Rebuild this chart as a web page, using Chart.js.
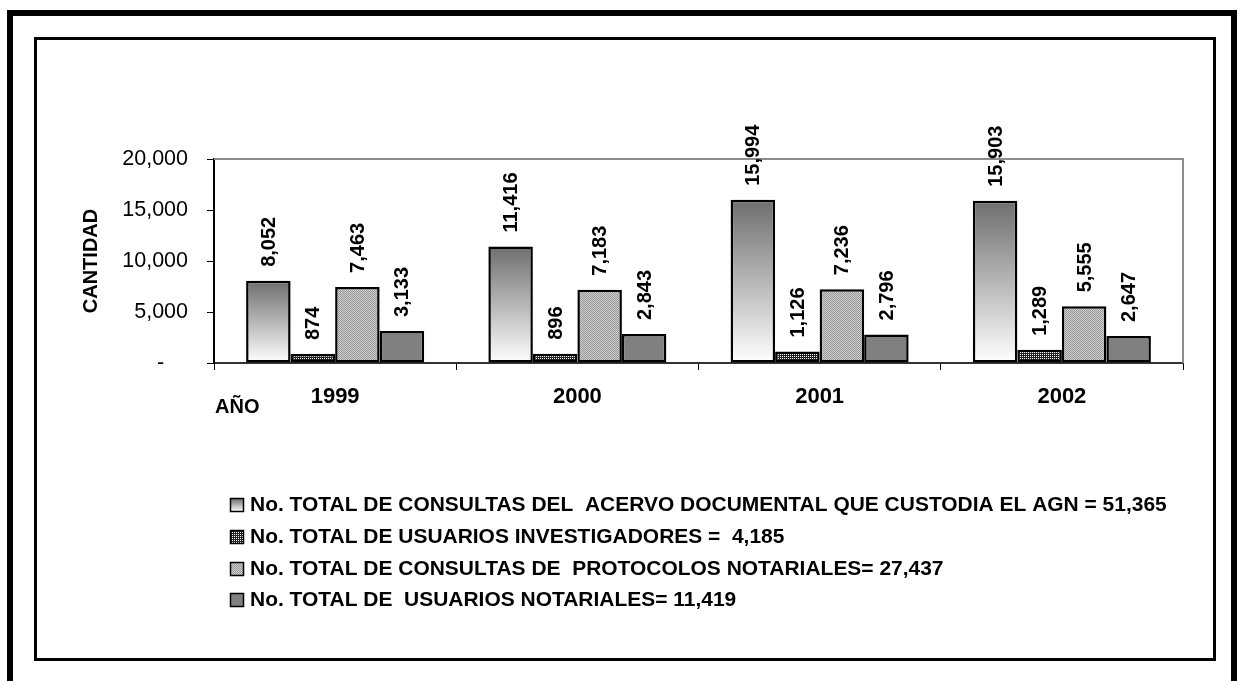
<!DOCTYPE html>
<html>
<head>
<meta charset="utf-8">
<script src="https://cdn.jsdelivr.net/npm/chart.js@4.4.1/dist/chart.umd.min.js"></script>
<style>
  html, body { margin: 0; padding: 0; background: #fff; width: 1238px; height: 681px; overflow: hidden; }
  #outer { position: absolute; left: 7px; top: 10px; width: 1230px; height: 720px; border: 6px solid #000; box-sizing: border-box; }
  #inner { position: absolute; left: 34px; top: 37px; width: 1182px; height: 624px; border: 3px solid #000; box-sizing: border-box; }
  #c { position: absolute; left: 0; top: 0; z-index: 2; }
</style>
</head>
<body>
<div id="outer"></div>
<div id="inner"></div>
<canvas id="c" width="1238" height="681"></canvas>
<script>
// ---- data ----
const categories = ['1999', '2000', '2001', '2002'];
const consultasAcervo = [8052, 11416, 15994, 15903];
const usuariosInvestigadores = [874, 896, 1126, 1289];
const consultasProtocolos = [7463, 7183, 7236, 5555];
const usuariosNotariales = [3133, 2843, 2796, 2647];
const seriesLabels = [
  'No. TOTAL DE CONSULTAS DEL  ACERVO DOCUMENTAL QUE CUSTODIA EL AGN = 51,365',
  'No. TOTAL DE USUARIOS INVESTIGADORES =  4,185',
  'No. TOTAL DE CONSULTAS DE  PROTOCOLOS NOTARIALES= 27,437',
  'No. TOTAL DE  USUARIOS NOTARIALES= 11,419'
];
const yTickValues = [0, 5000, 10000, 15000, 20000];
const yTickLabels = ['-', '5,000', '10,000', '15,000', '20,000'];
const yAxisTitle = 'CANTIDAD';
const xAxisTitle = 'AÑO';

const FONT = "Arial, 'Liberation Sans', sans-serif";

function fmt(n) { return n.toString().replace(/\B(?=(\d{3})+(?!\d))/g, ','); }

function makePattern(size, draw) {
  const c = document.createElement('canvas');
  c.width = size; c.height = size;
  const x = c.getContext('2d');
  draw(x);
  return document.getElementById('c').getContext('2d').createPattern(c, 'repeat');
}
const darkStipple = makePattern(2, x => {
  x.fillStyle = '#222'; x.fillRect(0, 0, 2, 2);
  x.fillStyle = '#fff'; x.fillRect(0, 0, 1, 1);
});
const lightStipple = makePattern(2, x => {
  x.fillStyle = '#cfcfcf'; x.fillRect(0, 0, 2, 2);
  x.fillStyle = '#989898'; x.fillRect(0, 0, 1, 1); x.fillRect(1, 1, 1, 1);
});

function gradientFill(ctx) {
  const chart = ctx.chart;
  if (!chart.chartArea || ctx.type !== 'data') return '#b0b0b0';
  const y = chart.scales.y;
  const top = y.getPixelForValue(ctx.raw);
  const bottom = y.getPixelForValue(0);
  const g = chart.ctx.createLinearGradient(0, top, 0, bottom);
  g.addColorStop(0, '#6e6e6e');
  g.addColorStop(1, '#ffffff');
  return g;
}

const frameAndLabels = {
  id: 'frameAndLabels',
  afterDatasetsDraw(chart) {
    const ctx = chart.ctx;
    const a = chart.chartArea;
    // gray plot-area border (top & right)
    ctx.save();
    ctx.strokeStyle = '#8c8c8c';
    ctx.lineWidth = 2;
    ctx.beginPath();
    ctx.moveTo(a.left, a.top);
    ctx.lineTo(a.right, a.top);
    ctx.lineTo(a.right, a.bottom);
    ctx.stroke();
    ctx.restore();
    // data labels
    ctx.save();
    ctx.fillStyle = '#000';
    ctx.font = 'bold 20px ' + FONT;
    ctx.textAlign = 'left';
    ctx.textBaseline = 'middle';
    chart.data.datasets.forEach((ds, i) => {
      const meta = chart.getDatasetMeta(i);
      meta.data.forEach((bar, j) => {
        ctx.save();
        ctx.translate(bar.x, bar.y - 14);
        ctx.rotate(-Math.PI / 2);
        ctx.fillText(fmt(ds.data[j]), 0, 1);
        ctx.restore();
      });
    });
    ctx.restore();
  },
  afterDraw(chart) {
    const ctx = chart.ctx;
    ctx.save();
    ctx.fillStyle = '#000';
    // axis titles
    ctx.font = 'bold 20px ' + FONT;
    ctx.save();
    ctx.translate(91, 261);
    ctx.rotate(-Math.PI / 2);
    ctx.textAlign = 'center';
    ctx.textBaseline = 'middle';
    ctx.fillText(yAxisTitle, 0, 0);
    ctx.restore();
    ctx.textAlign = 'left';
    ctx.textBaseline = 'alphabetic';
    ctx.fillText(xAxisTitle, 215, 413);
    // legend
    ctx.font = 'bold 20px ' + FONT;
    ctx.textBaseline = 'middle';
    chart.data.datasets.forEach((ds, i) => {
      const cy = 504.5 + i * 31.8;
      const sx = 230.5, sy = Math.round(cy - 6.5) + 0.5, s = 13;
      let fill;
      if (i === 0) {
        fill = ctx.createLinearGradient(0, sy, 0, sy + s);
        fill.addColorStop(0, '#6e6e6e');
        fill.addColorStop(1, '#ffffff');
      } else {
        fill = ds.legendFill;
      }
      ctx.fillStyle = fill;
      ctx.fillRect(sx, sy, s, s);
      ctx.strokeStyle = '#000';
      ctx.lineWidth = 1.5;
      ctx.strokeRect(sx, sy, s, s);
      ctx.fillStyle = '#000';
      ctx.save();
      ctx.translate(250, cy + 1);
      ctx.scale(1.048, 1);
      ctx.fillText(ds.label, 0, 0);
      ctx.restore();
    });
    ctx.restore();
  }
};

new Chart(document.getElementById('c'), {
  type: 'bar',
  data: {
    labels: categories,
    datasets: [
      { label: seriesLabels[0], data: consultasAcervo, backgroundColor: gradientFill },
      { label: seriesLabels[1], data: usuariosInvestigadores, backgroundColor: darkStipple, legendFill: darkStipple },
      { label: seriesLabels[2], data: consultasProtocolos, backgroundColor: lightStipple, legendFill: lightStipple },
      { label: seriesLabels[3], data: usuariosNotariales, backgroundColor: '#808080', legendFill: '#808080' }
    ]
  },
  options: {
    responsive: false,
    devicePixelRatio: 1,
    animation: false,
    events: [],
    layout: { padding: { left: 0, right: 55, top: 159, bottom: 258 } },
    datasets: {
      bar: {
        categoryPercentage: 0.735,
        barPercentage: 1,
        borderColor: '#000',
        borderWidth: 2.5,
        borderSkipped: false
      }
    },
    plugins: { legend: { display: false }, tooltip: { enabled: false }, title: { display: false } },
    scales: {
      x: {
        offset: true,
        afterFit(s) { s.height = 60; },
        grid: { offset: true, drawOnChartArea: false, drawTicks: true, tickLength: 7, color: '#000', lineWidth: 1 },
        border: { display: true, color: '#333', width: 2 },
        ticks: { color: '#000', font: { family: FONT, size: 22, weight: 'bold' }, padding: 14, maxRotation: 0 }
      },
      y: {
        min: 0, max: 20000,
        afterFit(s) { s.width = 214; },
        afterBuildTicks(s) { s.ticks = yTickValues.map(v => ({ value: v })); },
        grid: { drawOnChartArea: false, drawTicks: true, tickLength: 7, color: '#000', lineWidth: 1 },
        border: { display: true, color: '#000', width: 2 },
        ticks: {
          color: '#000',
          font: { family: FONT, size: 21.5 },
          padding: 19,
          callback(v) {
            const i = yTickValues.indexOf(v);
            const t = i >= 0 ? yTickLabels[i] : '';
            return t === '-' ? '-    ' : t;
          }
        }
      }
    }
  },
  plugins: [frameAndLabels]
});
</script>
</body>
</html>
